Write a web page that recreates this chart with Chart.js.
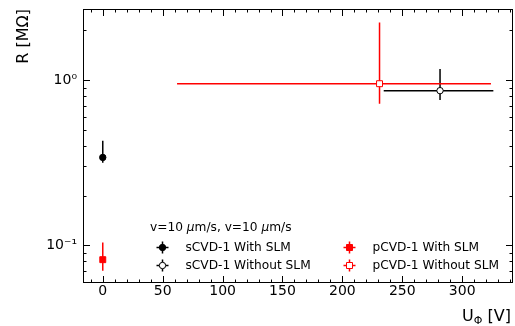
<!DOCTYPE html>
<html>
<head>
<meta charset="utf-8">
<script src="https://cdn.jsdelivr.net/npm/chart.js"></script>
<style>
  html, body { margin: 0; padding: 0; background: #fff; overflow: hidden; }
  #wrap { width: 515px; height: 326px; position: relative; }
</style>
</head>
<body>
<div id="wrap"><canvas id="c"></canvas></div>
<script>
// series, in legend order (column by column)
var seriesNames = ["sCVD-1 With SLM", "sCVD-1 Without SLM", "pCVD-1 With SLM", "pCVD-1 Without SLM"];
var seriesColors = ["#000000", "#000000", "#ff0000", "#ff0000"];
var seriesFilled = [true, false, true, false];
var seriesShape = ["circle", "circle", "rect", "rect"];
// U_phi [V] and R [MOhm]
var uPhi = [0, 281.5, 0, 231];
var uLow = [0, 234.5, 0, 62];
var uHigh = [0, 326, 0, 324];
var resist = [0.340, 0.862, 0.0818, 0.950];
var rLow = [0.316, 0.757, 0.0702, 0.719];
var rHigh = [0.429, 1.166, 0.104, 2.23];
// axes
var xTicks = [0, 50, 100, 150, 200, 250, 300];
var yTicks = [0.1, 1];
var yTickLabels = ["10\u207B\u00B9", "10\u2070"];
var xMin = -16.5, xMax = 342.4;
var yMin = 0.0591, yMax = 2.69;
var legendTitle = ["v=10 ", "\u03BC", "m/s, v=10 ", "\u03BC", "m/s"];

var FONT = "'DejaVu Sans', sans-serif";

function drawMarker(ctx, x, y, i) {
  ctx.save();
  ctx.lineWidth = 1;
  ctx.strokeStyle = seriesColors[i];
  ctx.fillStyle = seriesFilled[i] ? seriesColors[i] : "#ffffff";
  ctx.beginPath();
  if (seriesShape[i] === "circle") {
    ctx.arc(x, y, 3.2, 0, Math.PI * 2);
  } else {
    ctx.rect(x - 3, y - 3, 6, 6);
  }
  ctx.fill();
  ctx.stroke();
  ctx.restore();
}

var errorBars = {
  id: "errorBars",
  beforeDatasetsDraw: function (chart) {
    var ctx = chart.ctx, xs = chart.scales.x, ys = chart.scales.y;
    ctx.save();
    ctx.lineWidth = 1.5;
    uPhi.forEach(function (u, i) {
      var px = xs.getPixelForValue(u), py = ys.getPixelForValue(resist[i]);
      ctx.strokeStyle = seriesColors[i];
      ctx.beginPath();
      ctx.moveTo(xs.getPixelForValue(uLow[i]), py);
      ctx.lineTo(xs.getPixelForValue(uHigh[i]), py);
      ctx.moveTo(px, ys.getPixelForValue(rLow[i]));
      ctx.lineTo(px, ys.getPixelForValue(rHigh[i]));
      ctx.stroke();
    });
    ctx.restore();
  }
};

var frame = {
  id: "frame",
  afterDraw: function (chart) {
    var ctx = chart.ctx, a = chart.chartArea, xs = chart.scales.x, ys = chart.scales.y;
    ctx.save();
    ctx.strokeStyle = "#000";
    ctx.lineWidth = 1;
    ctx.strokeRect(a.left + 0.5, a.top + 0.5, a.right - a.left - 1, a.bottom - a.top - 1);
    ctx.beginPath();
    // x ticks, inward on bottom and top
    for (var v = -10; v <= xMax; v += 10) {
      var px = Math.round(xs.getPixelForValue(v)) + 0.5;
      var len = v % 50 === 0 ? 7 : 3.5;
      ctx.moveTo(px, a.bottom); ctx.lineTo(px, a.bottom - len);
      ctx.moveTo(px, a.top); ctx.lineTo(px, a.top + len);
    }
    // y ticks, log
    [0.01, 0.1, 1].forEach(function (dec) {
      for (var k = 1; k < 10; k++) {
        var val = dec * k;
        if (val < yMin || val > yMax) continue;
        var py = Math.round(ys.getPixelForValue(val)) + 0.5;
        var len = k === 1 ? 7 : 3.5;
        ctx.moveTo(a.left, py); ctx.lineTo(a.left + len, py);
        ctx.moveTo(a.right, py); ctx.lineTo(a.right - len, py);
      }
    });
    ctx.stroke();

    // axis titles
    ctx.fillStyle = "#000";
    ctx.font = "16px " + FONT;
    ctx.save();
    ctx.translate(28, a.top);
    ctx.rotate(-Math.PI / 2);
    ctx.textAlign = "right";
    ctx.textBaseline = "alphabetic";
    ctx.fillText("R [M\u03A9]", 0, 0);
    ctx.restore();

    ctx.textBaseline = "alphabetic";
    ctx.textAlign = "left";
    var base = 321;
    var w1 = ctx.measureText("U").width;
    ctx.font = "11px " + FONT;
    var w2 = ctx.measureText("\u03A6").width;
    ctx.font = "16px " + FONT;
    var w3 = ctx.measureText(" [V]").width;
    var x0 = 511 - (w1 + w2 + w3);
    ctx.fillText("U", x0, base);
    ctx.font = "11px " + FONT;
    ctx.fillText("\u03A6", x0 + w1, base + 3);
    ctx.font = "16px " + FONT;
    ctx.fillText(" [V]", x0 + w1 + w2, base);

    // legend
    ctx.textBaseline = "middle";
    var tx = 150;
    legendTitle.forEach(function (part, j) {
      ctx.font = (j % 2 === 1 ? "italic " : "") + "12.2px " + FONT;
      ctx.fillText(part, tx, 227.5);
      tx += ctx.measureText(part).width;
    });
    ctx.font = "12.2px " + FONT;
    var colX = [162.5, 349.5], rowY = [247.5, 265.5], textOff = 23;
    seriesNames.forEach(function (name, i) {
      var mx = colX[Math.floor(i / 2)], my = rowY[i % 2];
      ctx.strokeStyle = seriesColors[i];
      ctx.lineWidth = 1.5;
      ctx.beginPath();
      ctx.moveTo(mx - 6, my); ctx.lineTo(mx + 6, my);
      ctx.moveTo(mx, my - 6); ctx.lineTo(mx, my + 6);
      ctx.stroke();
      drawMarker(ctx, mx, my, i);
      ctx.fillStyle = "#000";
      ctx.fillText(name, mx + textOff, my);
    });
    ctx.restore();
  }
};

var datasets = seriesNames.map(function (name, i) {
  return {
    label: name,
    data: [{ x: uPhi[i], y: resist[i] }],
    pointStyle: seriesShape[i],
    pointRadius: seriesShape[i] === "rect" ? 4.2 : 3.2,
    pointHoverRadius: 0,
    pointBorderWidth: 1,
    pointBorderColor: seriesColors[i],
    pointBackgroundColor: seriesFilled[i] ? seriesColors[i] : "#ffffff",
    showLine: false
  };
});

function noPad(s) {
  s.paddingTop = 0; s.paddingBottom = 0; s.paddingLeft = 0; s.paddingRight = 0;
}

new Chart(document.getElementById("c"), {
  type: "scatter",
  data: { datasets: datasets },
  options: {
    responsive: true,
    maintainAspectRatio: false,
    animation: false,
    events: [],
    layout: { autoPadding: false, padding: { left: 0, right: 2, top: 9, bottom: 0 } },
    plugins: { legend: { display: false }, tooltip: { enabled: false } },
    scales: {
      x: {
        type: "linear",
        min: xMin,
        max: xMax,
        grid: { display: false, drawTicks: false },
        border: { display: false },
        afterBuildTicks: function (s) {
          s.ticks = xTicks.map(function (v) { return { value: v }; });
        },
        afterFit: function (s) { s.height = 43; noPad(s); },
        ticks: {
          padding: 0,
          color: "#000",
          font: { family: FONT, size: 14 },
          maxRotation: 0,
          callback: function (v) { return String(v); }
        }
      },
      y: {
        type: "logarithmic",
        min: yMin,
        max: yMax,
        grid: { display: false, drawTicks: false },
        border: { display: false },
        afterBuildTicks: function (s) {
          s.ticks = yTicks.map(function (v) { return { value: v }; });
        },
        afterFit: function (s) { s.width = 83; noPad(s); },
        ticks: {
          padding: 6,
          color: "#000",
          font: { family: FONT, size: 14 },
          callback: function (v) {
            var i = yTicks.indexOf(v);
            return i >= 0 ? yTickLabels[i] : "";
          }
        }
      }
    }
  },
  plugins: [errorBars, frame]
});
</script>
</body>
</html>
